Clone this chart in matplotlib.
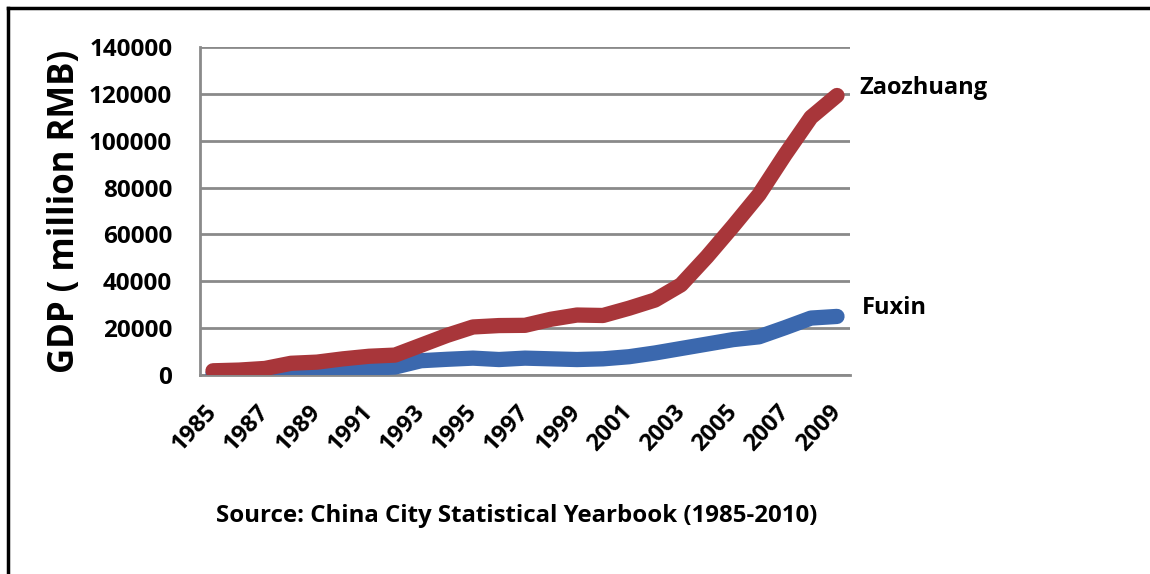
import matplotlib
matplotlib.use("Agg")
import matplotlib.pyplot as plt
from matplotlib.lines import Line2D
from matplotlib.transforms import ScaledTranslation

years = list(range(1985, 2010))
zaozhuang = [1800, 2100, 2800, 5000, 5500, 6900, 8000, 8500, 12700, 16900,
             20500, 21100, 21200, 23800, 25600, 25400, 28500, 32000, 38500, 50500,
             63500, 77000, 94000, 110000, 119300]
fuxin = [700, 900, 1200, 1700, 2000, 2500, 2900, 3400, 6100, 6700,
         7200, 6600, 7200, 6900, 6600, 6900, 7800, 9400, 11300, 13200,
         15100, 16300, 20200, 24300, 25000]
yticks = [0, 20000, 40000, 60000, 80000, 100000, 120000, 140000]
xtick_labels = [str(y) for y in years[::2]]
source_text = "Source: China City Statistical Yearbook (1985-2010)"

plt.rcParams['font.family'] = ['Open Sans', 'DejaVu Sans']
plt.rcParams['font.weight'] = 'bold'

fig = plt.figure(figsize=(11.5, 5.74), dpi=100)
ax = fig.add_axes([200/1150, 1-375/574, 650/1150, 328/574])

x = list(range(len(years)))
ax.plot(x, fuxin, color='#3B68AE', lw=11, solid_capstyle='round', solid_joinstyle='round', zorder=3)
ax.plot(x, zaozhuang, color='#A8363A', lw=11, solid_capstyle='round', solid_joinstyle='round', zorder=4)

ax.set_xlim(-0.5, len(years) - 0.5)
ax.set_ylim(0, 140000)
ax.set_yticks(yticks)
ax.set_yticklabels([str(v) for v in yticks], fontsize=17.5, fontweight='bold')
ax.set_xticks(x[::2])
ax.set_xticklabels(xtick_labels, rotation=47, ha='right', va='center', rotation_mode='anchor',
                   fontsize=17, fontweight='bold')
offset = ScaledTranslation(3/100, 0, fig.dpi_scale_trans)
for lab in ax.get_xticklabels():
    lab.set_transform(lab.get_transform() + offset)
ax.tick_params(axis='y', length=0, pad=20)
ax.tick_params(axis='x', length=0, pad=24)
ax.yaxis.grid(True, color='#8a8a8a', lw=2)
ax.set_axisbelow(True)
for s in ['top', 'right']:
    ax.spines[s].set_visible(False)
for s in ['left', 'bottom']:
    ax.spines[s].set_color('#8a8a8a')
    ax.spines[s].set_linewidth(2)

ax.set_ylabel("GDP ( million RMB)", fontsize=25, fontweight='bold', labelpad=4)

ax.text(len(years) - 0.5 + 0.35, 122500, "Zaozhuang", fontsize=17, fontweight='bold',
        va='center', ha='left', clip_on=False)
ax.text(len(years) - 0.5 + 0.45, 28600, "Fuxin", fontsize=17, fontweight='bold',
        va='center', ha='left', clip_on=False)

fig.text(517/1150, 1-516/574, source_text, fontsize=17.3, fontweight='bold',
         ha='center', va='center')

fig.add_artist(Line2D([8/1150, 1], [1-8/574, 1-8/574], color='black', lw=2.5, transform=fig.transFigure))
fig.add_artist(Line2D([8/1150, 8/1150], [1-8/574, 0], color='black', lw=2.5, transform=fig.transFigure))

fig.savefig("out.png", dpi=100)
